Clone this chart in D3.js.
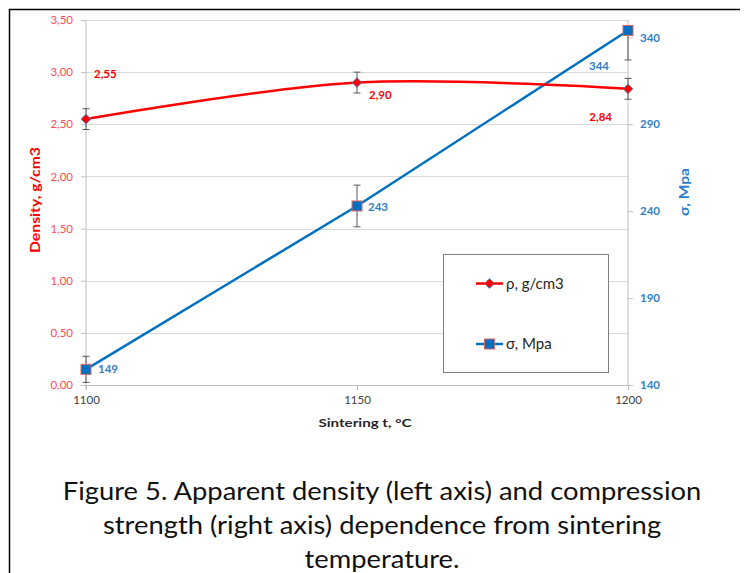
<!DOCTYPE html>
<html>
<head>
<meta charset="utf-8">
<script src="https://cdn.jsdelivr.net/npm/d3@7"></script>
<style>
  body { margin: 0; background: #fff; }
  svg { display: block; font-family: Lato, "Liberation Sans", sans-serif; }
</style>
</head>
<body>
<svg id="chart" width="744" height="573"></svg>
<script>
// sintering temperature, deg C
var temps = [1100, 1150, 1200];
var density = [2.55, 2.90, 2.84];
var densityErr = [0.1, 0.1, 0.1];
var strength = [149, 243, 344];
var strengthErr = [7.5, 12, 17];

var leftTicks = [0, 0.5, 1, 1.5, 2, 2.5, 3, 3.5];
var rightTicks = [140, 190, 240, 290, 340];
var xTicks = [1100, 1150, 1200];

var captionLines = [
    "Figure 5. Apparent density (left axis) and compression",
    "strength (right axis) dependence from sintering",
    "temperature."
];

var red = "#ff0000";
var blue = "#0070c0";
var blueText = "#2f7fc9";
var gridCol = "#d9d9d9";
var axisCol = "#bfbfbf";

var svg = d3.select("#chart");

var comma = d3.formatLocale({ decimal: ",", thousands: " ", grouping: [3], currency: ["", ""] });
var fmt2 = comma.format(".2f");

var x = d3.scaleLinear().domain([1100, 1200]).range([86, 628]);
var yL = d3.scaleLinear().domain([0, 3.5]).range([385, 20]);
var yR = d3.scaleLinear().domain([140, 350]).range([385, 20]);

// frame of the figure (top and left only)
svg.append("line").attr("x1", 9).attr("x2", 740).attr("y1", 9.5).attr("y2", 9.5)
    .attr("stroke", "#000").attr("stroke-width", 1.5);
svg.append("line").attr("x1", 9.5).attr("x2", 9.5).attr("y1", 9).attr("y2", 573)
    .attr("stroke", "#000").attr("stroke-width", 1.5);

// gridlines
svg.append("g").selectAll("line").data(leftTicks).enter().append("line")
    .attr("x1", x(1100)).attr("x2", x(1200))
    .attr("y1", function (d) { return Math.round(yL(d)) + 0.5; })
    .attr("y2", function (d) { return Math.round(yL(d)) + 0.5; })
    .attr("stroke", gridCol).attr("stroke-width", 1.2);

// left axis
var leftAxis = d3.axisLeft(yL).tickValues(leftTicks).tickSize(5).tickSizeOuter(0).tickPadding(8).tickFormat(fmt2);
var gL = svg.append("g").attr("transform", "translate(" + x(1100) + ",0)").call(leftAxis);
gL.select(".domain").attr("stroke", axisCol).attr("d", "M0," + yL(0) + "V" + yL(3.5) + "M0," + yL(0) + "V" + (yL(0) + 5));
gL.selectAll(".tick line").attr("stroke", axisCol);
gL.selectAll(".tick text").attr("fill", "#ff4d4d").style("font-size", "11.5px").style("font-family", "Lato");

// right axis
var rightAxis = d3.axisRight(yR).tickValues(rightTicks).tickSize(5).tickSizeOuter(0).tickPadding(7);
var gR = svg.append("g").attr("transform", "translate(" + x(1200) + ",0)").call(rightAxis);
gR.select(".domain").attr("stroke", axisCol).attr("d", "M0," + yL(0) + "V" + yL(3.5));
gR.selectAll(".tick line").attr("stroke", axisCol);
gR.selectAll(".tick text").attr("fill", blueText).style("font-size", "11.5px")
    .style("font-weight", "bold").style("font-family", "Lato");

// bottom axis
var bottomAxis = d3.axisBottom(x).tickValues(xTicks).tickSize(5).tickSizeOuter(0).tickPadding(6).tickFormat(d3.format("d"));
var gB = svg.append("g").attr("transform", "translate(0," + yL(0) + ")").call(bottomAxis);
gB.select(".domain").attr("stroke", axisCol);
gB.selectAll(".tick line").attr("stroke", axisCol);
gB.selectAll(".tick text").attr("fill", "#404040").style("font-size", "11.5px").style("font-family", "Lato");

// axis titles
svg.append("text").attr("x", 365).attr("y", 427).attr("text-anchor", "middle")
    .attr("textLength", 93).attr("lengthAdjust", "spacingAndGlyphs")
    .style("font-size", "11.5px").style("font-weight", "bold").attr("fill", "#262626")
    .text("Sintering t, °C");
svg.append("text").attr("transform", "translate(40,200) rotate(-90)").attr("text-anchor", "middle")
    .attr("textLength", 106).attr("lengthAdjust", "spacingAndGlyphs")
    .style("font-size", "13.5px").style("font-weight", "bold").attr("fill", red)
    .text("Density, g/cm3");
svg.append("text").attr("transform", "translate(689,192) rotate(-90)").attr("text-anchor", "middle")
    .attr("textLength", 48).attr("lengthAdjust", "spacingAndGlyphs")
    .style("font-size", "14px").style("font-weight", "bold").attr("fill", blueText)
    .text("σ, Mpa");

var plot = svg.append("g");

// error bars (a side that runs past the axis range is not drawn)
function errorBars(vals, errs, y) {
    var g = plot.append("g").attr("stroke", "#595959").attr("stroke-width", 1);
    var dom = y.domain();
    vals.forEach(function (v, i) {
        var cx = x(temps[i]);
        [v - errs[i], v + errs[i]].forEach(function (e) {
            if (e < dom[0] || e > dom[1]) return;
            g.append("line").attr("x1", cx).attr("x2", cx).attr("y1", y(v)).attr("y2", y(e));
            g.append("line").attr("x1", cx - 3.5).attr("x2", cx + 3.5).attr("y1", y(e)).attr("y2", y(e));
        });
    });
}
errorBars(density, densityErr, yL);
errorBars(strength, strengthErr, yR);

// strength line
var lineR = d3.line()
    .x(function (d, i) { return x(temps[i]); })
    .y(function (d) { return yR(d); });
plot.append("path").attr("d", lineR(strength)).attr("fill", "none")
    .attr("stroke", blue).attr("stroke-width", 2.5);

// density line (smoothed like excel)
var lineL = d3.line()
    .x(function (d, i) { return x(temps[i]); })
    .y(function (d) { return yL(d); })
    .curve(d3.curveCardinal.tension(0));
plot.append("path").attr("d", lineL(density)).attr("fill", "none")
    .attr("stroke", red).attr("stroke-width", 2.5);

function diamond(g, cx, cy) {
    g.append("path").attr("d", d3.symbol().type(d3.symbolDiamond2).size(60)())
        .attr("transform", "translate(" + cx + "," + cy + ")")
        .attr("fill", red).attr("stroke", "#4f81bd").attr("stroke-width", 1);
}
function square(g, cx, cy) {
    g.append("rect").attr("x", cx - 5).attr("y", cy - 5).attr("width", 10).attr("height", 10)
        .attr("fill", blue).attr("stroke", "#e06666").attr("stroke-width", 1);
}

density.forEach(function (d, i) { diamond(svg, x(temps[i]), yL(d)); });
strength.forEach(function (d, i) { square(svg, x(temps[i]), yR(d)); });

// data labels, placement as in the original
var densityLabelPos = [[8, -45, "start"], [12, 12, "start"], [-16, 28, "end"]];
var strengthLabelPos = [[12, 0, "start"], [11, 1, "start"], [-19, 36, "end"]];

svg.append("g").selectAll("text").data(density).enter().append("text")
    .attr("x", function (d, i) { return x(temps[i]) + densityLabelPos[i][0]; })
    .attr("y", function (d, i) { return yL(d) + densityLabelPos[i][1]; })
    .attr("dy", "0.35em")
    .attr("text-anchor", function (d, i) { return densityLabelPos[i][2]; })
    .attr("fill", red).style("font-size", "11.5px").style("font-weight", "bold")
    .text(function (d) { return fmt2(d); });

svg.append("g").selectAll("text").data(strength).enter().append("text")
    .attr("x", function (d, i) { return x(temps[i]) + strengthLabelPos[i][0]; })
    .attr("y", function (d, i) { return yR(d) + strengthLabelPos[i][1]; })
    .attr("dy", "0.35em")
    .attr("text-anchor", function (d, i) { return strengthLabelPos[i][2]; })
    .attr("fill", blueText).style("font-size", "11.5px").style("font-weight", "bold")
    .text(function (d) { return d; });

// legend
var legend = svg.append("g");
legend.append("rect").attr("x", 443.5).attr("y", 254.5).attr("width", 165).attr("height", 118)
    .attr("fill", "#fff").attr("stroke", "#7f7f7f").attr("stroke-width", 1);
legend.append("line").attr("x1", 476).attr("x2", 503).attr("y1", 283.5).attr("y2", 283.5)
    .attr("stroke", red).attr("stroke-width", 2.5);
diamond(legend, 489.5, 283.5);
legend.append("text").attr("x", 506).attr("y", 283.5).attr("dy", "0.35em")
    .style("font-size", "15px").attr("fill", "#262626").text("ρ, g/cm3");
legend.append("line").attr("x1", 476).attr("x2", 503).attr("y1", 344).attr("y2", 344)
    .attr("stroke", blue).attr("stroke-width", 2.5);
square(legend, 489.5, 344);
legend.append("text").attr("x", 506).attr("y", 344).attr("dy", "0.35em")
    .style("font-size", "15px").attr("fill", "#262626").text("σ, Mpa");

// caption, stretched a little so the first line spans the same width as the original
var cap = svg.append("g");
cap.selectAll("text").data(captionLines).enter().append("text")
    .attr("x", 0)
    .attr("y", function (d, i) { return 500 + i * 34; })
    .attr("text-anchor", "middle")
    .style("font-size", "24.5px").attr("fill", "#111")
    .text(function (d) { return d; });
var w0 = cap.select("text").node().getComputedTextLength();
cap.attr("transform", "translate(382,0) scale(" + (639 / w0) + ",1)");
</script>
</body>
</html>
